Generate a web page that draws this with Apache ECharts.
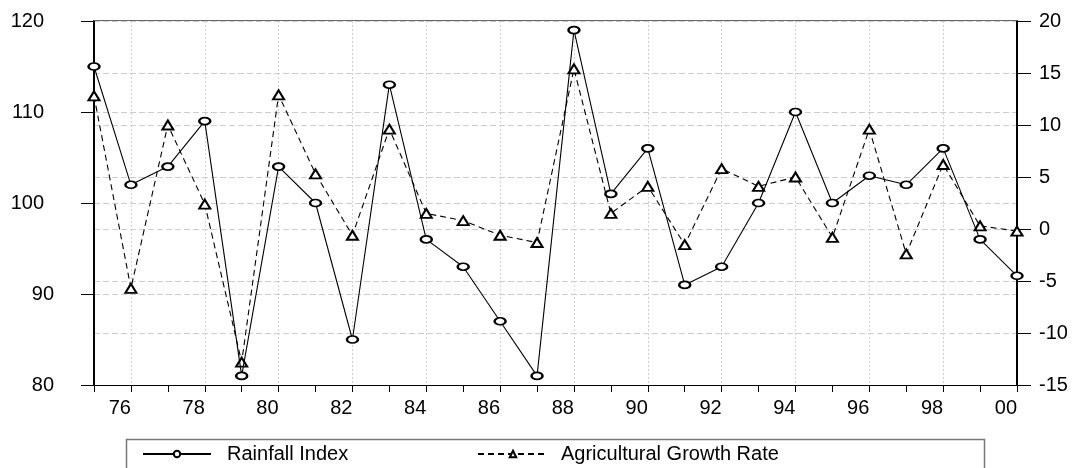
<!DOCTYPE html>
<html>
<head>
<meta charset="utf-8">
<script src="https://cdn.jsdelivr.net/npm/echarts@6/dist/echarts.min.js"></script>
<style>
html,body{margin:0;padding:0;background:#fff;}
#chart{width:1073px;height:468px;}
</style>
</head>
<body>
<div id="chart"></div>
<script>
const years = ['75','76','77','78','79','80','81','82','83','84','85','86','87','88','89','90','91','92','93','94','95','96','97','98','99','00'];
const rainfallIndex = [115,102,104,109,81,104,100,85,113,96,93,87,81,119,101,106,91,93,100,110,100,103,102,106,96,92];
const agriGrowth = [12.8,-5.7,10,2.4,-12.8,12.9,5.3,-0.6,9.6,1.5,0.8,-0.6,-1.3,15.4,1.5,4.1,-1.5,5.8,4.1,5.0,-0.8,9.6,-2.4,6.2,0.3,-0.2];
const leftTicks = {min:80, max:120, interval:10};
const rightTicks = {min:-15, max:20, interval:5};

const FONT = 'Liberation Sans, Arial, sans-serif';
const chart = echarts.init(document.getElementById('chart'), null, {renderer:'canvas'});
const labelEven = (i) => i % 2 === 1;

const option = {
  animation:false,
  backgroundColor:'#fff',
  grid:{left:94, right:56, top:21, height:364, containLabel:false},
  xAxis:{
    type:'category', data:years, boundaryGap:false,
    axisLine:{onZero:false, lineStyle:{color:'#000', width:1}},
    axisTick:{interval:0, length:7, lineStyle:{color:'#000', width:1}},
    axisLabel:{interval:labelEven, align:'right', margin:13, color:'#000', fontFamily:FONT, fontSize:20},
    splitLine:{show:true, interval:labelEven, lineStyle:{color:'#d0d0d0', type:[2,2], width:1}}
  },
  yAxis:[
    {type:'value', min:leftTicks.min, max:leftTicks.max, interval:leftTicks.interval, position:'left',
     axisLine:{show:true, lineStyle:{color:'#000', width:2}},
     axisTick:{show:true, length:13, lineStyle:{color:'#000', width:1}},
     axisLabel:{color:'#000', fontFamily:FONT, fontSize:20, margin:40, align:'right',
       formatter:(v)=> v>=100 ? '{w|'+v+'}' : '{n|'+v+'}',
       rich:{w:{padding:[0,10,0,0], fontSize:20, fontFamily:FONT, color:'#000'}, n:{fontSize:20, fontFamily:FONT, color:'#000'}}},
     splitLine:{show:true, lineStyle:{color:'#cccccc', type:[6,3], width:1}}
    },
    {type:'value', min:rightTicks.min, max:rightTicks.max, interval:rightTicks.interval, position:'right',
     axisLine:{show:true, lineStyle:{color:'#000', width:2}},
     axisTick:{show:true, length:14, lineStyle:{color:'#000', width:1}},
     axisLabel:{color:'#000', fontFamily:FONT, fontSize:20, margin:22, align:'left'},
     splitLine:{show:true, lineStyle:{color:'#cccccc', type:[6,3], width:1}}
    }
  ],
  legend:[
    {data:['Rainfall Index'], left:142, top:444, padding:0, itemWidth:68, itemHeight:8,
     textStyle:{color:'#000', fontFamily:FONT, fontSize:20, padding:[0,0,0,11]}},
    {data:['Agricultural Growth Rate'], left:477, top:444, padding:0, itemWidth:70, itemHeight:8,
     textStyle:{color:'#000', fontFamily:FONT, fontSize:20, padding:[0,0,0,8]}}
  ],
  graphic:[
    {type:'line', shape:{x1:94, y1:20.5, x2:1017, y2:20.5}, style:{stroke:'#666', lineWidth:1.2}, z:50},
    {type:'rect', shape:{x:126.5, y:439.5, width:858, height:60}, style:{fill:'none', stroke:'#777', lineWidth:1.5}, z:50}
  ],
  series:[
    {name:'Rainfall Index', type:'line', yAxisIndex:0, data:rainfallIndex,
     symbol:'emptyCircle', symbolSize:[11,7], showAllSymbol:true,
     lineStyle:{color:'#000', width:1.1}, itemStyle:{color:'#000', borderWidth:0.9}, z:5},
    {name:'Agricultural Growth Rate', type:'line', yAxisIndex:1, data:agriGrowth,
     symbol:'emptyTriangle', symbolSize:[11,9], showAllSymbol:true,
     lineStyle:{color:'#000', width:1.1, type:[6,4]}, itemStyle:{color:'#000', borderWidth:0.9}, z:4}
  ]
};
chart.setOption(option);
</script>
</body>
</html>
